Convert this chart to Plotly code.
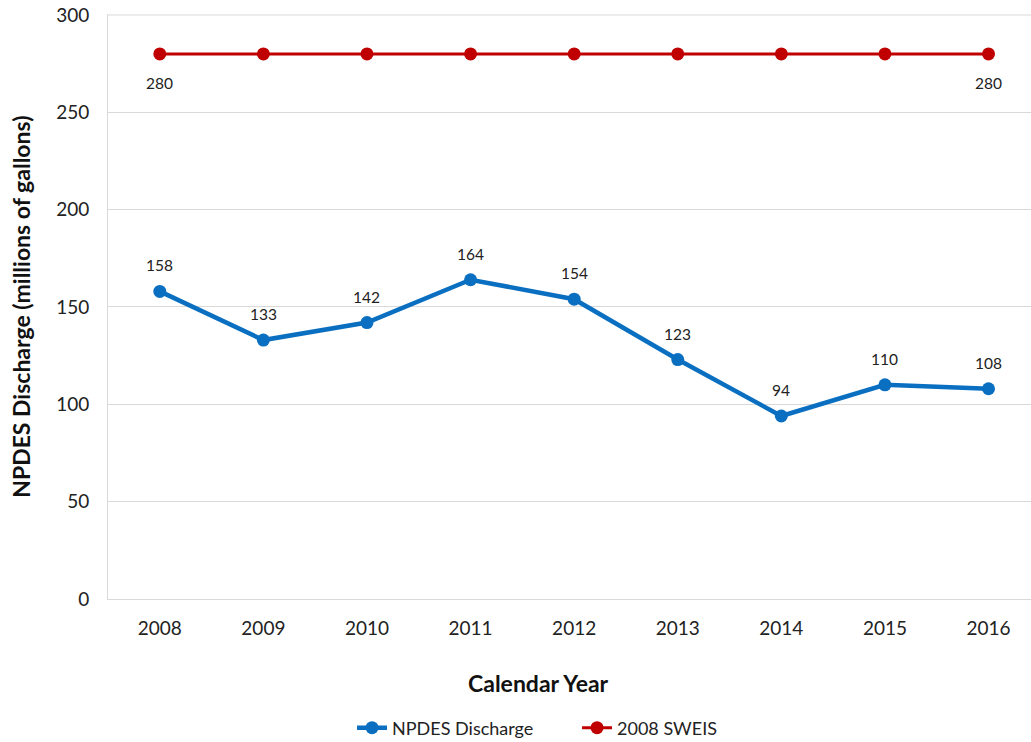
import plotly.graph_objects as go

years = ["2008", "2009", "2010", "2011", "2012", "2013", "2014", "2015", "2016"]
npdes = [158, 133, 142, 164, 154, 123, 94, 110, 108]
sweis = [280, 280, 280, 280, 280, 280, 280, 280, 280]
sweis_labels = ["280", "", "", "", "", "", "", "", "280"]
y_ticks = [0, 50, 100, 150, 200, 250, 300]

FONT = "Lato, Carlito, Calibri, sans-serif"
BLUE = "#0A6FC0"
RED = "#C00000"
GRID = "#D9D9D9"
LABEL_COLOR = "#222"

fig = go.Figure()
fig.add_trace(go.Scatter(
    x=years, y=npdes, name="NPDES Discharge", mode="lines+markers",
    line=dict(color=BLUE, width=4.5), marker=dict(size=13, color=BLUE),
    cliponaxis=False,
))
fig.add_trace(go.Scatter(
    x=years, y=sweis, name="2008 SWEIS", mode="lines+markers",
    line=dict(color=RED, width=3), marker=dict(size=13, color=RED),
    cliponaxis=False,
))

annotations = []
# category axes place annotations by category index
for i, v in enumerate(npdes):
    annotations.append(dict(x=i, y=v, text=str(v), showarrow=False, yshift=26,
                            xanchor="center", yanchor="middle",
                            font=dict(family=FONT, size=15.5, color=LABEL_COLOR)))
for i, (v, lab) in enumerate(zip(sweis, sweis_labels)):
    if lab:
        annotations.append(dict(x=i, y=v, text=lab, showarrow=False, yshift=-29,
                                xanchor="center", yanchor="middle",
                                font=dict(family=FONT, size=15.5, color=LABEL_COLOR)))

annotations += [
    dict(text="<b>Calendar Year</b>", xref="paper", yref="paper", x=0.466, y=-0.1436,
         xanchor="center", yanchor="middle", showarrow=False,
         font=dict(family=FONT, size=23, color="#111")),
    dict(text="<b>NPDES Discharge (millions of gallons)</b>", xref="paper", yref="paper",
         x=-0.095, y=0.5, xanchor="center", yanchor="middle", textangle=-90, showarrow=False,
         font=dict(family=FONT, size=23, color="#111")),
]

# top gridline (plotly omits the gridline at the range edge)
shapes = [dict(type="line", xref="paper", x0=0, x1=1, yref="y", y0=y_ticks[-1], y1=y_ticks[-1],
               line=dict(color=GRID, width=1), layer="below")]

fig.update_layout(
    width=1031, height=742,
    margin=dict(l=108, r=0, t=14, b=143, autoexpand=False),
    paper_bgcolor="white", plot_bgcolor="white",
    font=dict(family=FONT, color="#222"),
    showlegend=True,
    legend=dict(orientation="h", x=0.2644, xanchor="left", y=-0.2205, yanchor="middle",
                font=dict(family=FONT, size=18, color="#222"),
                entrywidth=180, entrywidthmode="pixels",
                traceorder="normal", bgcolor="rgba(0,0,0,0)"),
    xaxis=dict(type="category", range=[-0.5, 8.41], showgrid=False, automargin=False,
               showline=True, linecolor=GRID, linewidth=1,
               tickfont=dict(family=FONT, size=19, color="#222"), ticks="",
               ticklabelstandoff=12),
    yaxis=dict(range=[0, 300.5], tickvals=y_ticks,
               showgrid=True, gridcolor=GRID, gridwidth=1,
               showline=True, linecolor=GRID, linewidth=1, zeroline=False, automargin=False,
               tickfont=dict(family=FONT, size=19, color="#222"), ticks="",
               ticklabelstandoff=14),
    annotations=annotations,
    shapes=shapes,
)

fig.write_html("out.html", config={"displayModeBar": False},
               post_script="document.body.style.margin='0';")
